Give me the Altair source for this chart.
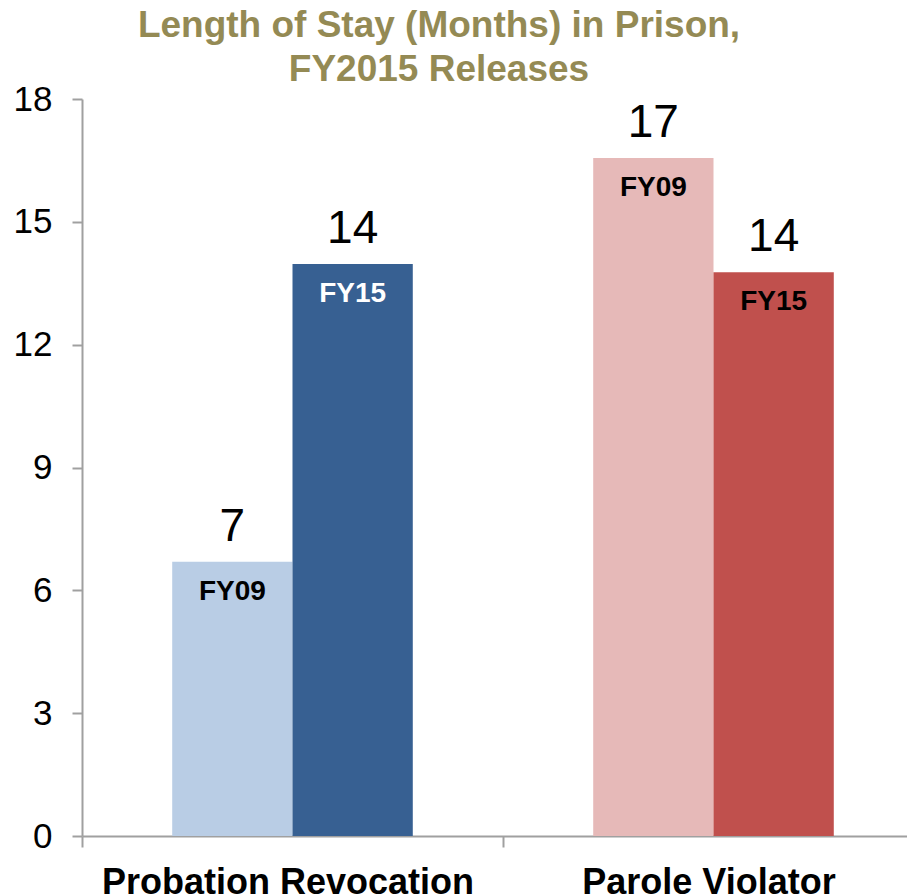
import altair as alt
import pandas as pd

categories = ["Probation Revocation", "Parole Violator"]
years = ["FY09", "FY15"]
probation_months = [6.70, 13.97]
parole_months = [16.56, 13.77]
value_labels = ["7", "14", "17", "14"]
bar_colors = ["#B9CDE5", "#376092", "#E6B9B8", "#C0504D"]
inner_label_colors = ["#000000", "#FFFFFF", "#000000", "#000000"]
y_ticks = [0, 3, 6, 9, 12, 15, 18]
title_lines = ["Length of Stay (Months) in Prison,", "FY2015 Releases"]

rows = []
i = 0
for cat, vals in zip(categories, [probation_months, parole_months]):
    for yr, v in zip(years, vals):
        rows.append({
            "category": cat, "year": yr, "months": v,
            "key": f"{cat} {yr}", "label": value_labels[i],
            "inner_color": inner_label_colors[i],
        })
        i += 1
df = pd.DataFrame(rows)
keys = list(df["key"])
title_df = pd.DataFrame({"t": ["\n".join(title_lines)]})

FONT = "Liberation Sans"
AXIS_GRAY = "#A0A0A0"

x_enc = alt.X(
    "category:N", sort=categories,
    scale=alt.Scale(range=[0, 842], paddingInner=0, paddingOuter=0),
    axis=alt.Axis(title=None, labelAngle=0, labelFont=FONT, labelFontSize=36,
                  labelFontWeight="bold", labelColor="#000000", labelPadding=18,
                  labelOffset=-5, labelLimit=1000, tickSize=11, tickBand="extent",
                  domainColor=AXIS_GRAY, tickColor=AXIS_GRAY,
                  domainWidth=2, tickWidth=2),
)
xo_enc = alt.XOffset("year:N", sort=years,
                     scale=alt.Scale(paddingInner=0, paddingOuter=0.75))
y_enc = alt.Y(
    "months:Q",
    scale=alt.Scale(domain=[0, 18], nice=False, zero=True),
    axis=alt.Axis(values=y_ticks, title=None, grid=False, tickSize=10,
                  labelPadding=20, labelFont=FONT, labelFontSize=35,
                  labelColor="#000000", domainColor=AXIS_GRAY,
                  tickColor=AXIS_GRAY, domainWidth=2, tickWidth=2),
)

bars = alt.Chart(df).mark_bar().encode(
    x=x_enc, xOffset=xo_enc, y=y_enc,
    color=alt.Color("key:N", scale=alt.Scale(domain=keys, range=bar_colors), legend=None),
)

values = alt.Chart(df).mark_text(
    font=FONT, fontSize=46, baseline="alphabetic", dy=-21, color="#000000"
).encode(x=x_enc, xOffset=xo_enc, y=y_enc, text="label:N")

inner = alt.Chart(df).mark_text(
    font=FONT, fontSize=28, fontWeight="bold", baseline="alphabetic", dy=38
).encode(x=x_enc, xOffset=xo_enc, y=y_enc, text="year:N",
         color=alt.Color("inner_color:N", scale=None))

title_mark = alt.Chart(title_df).mark_text(
    font=FONT, fontSize=37, fontWeight="bold", color="#948A54",
    baseline="top", align="center", lineBreak="\n", lineHeight=44,
).encode(text="t:N", x=alt.value(357), y=alt.value(-91))

chart = alt.layer(bars, values, inner, title_mark).properties(
    width=825, height=737,
    autosize=alt.AutoSizeParams(type="none"),
    padding={"left": 74, "top": 91, "right": 0, "bottom": 60},
).configure_view(stroke=None)

chart.save("out.html", embed_options={"renderer": "svg", "actions": False})
